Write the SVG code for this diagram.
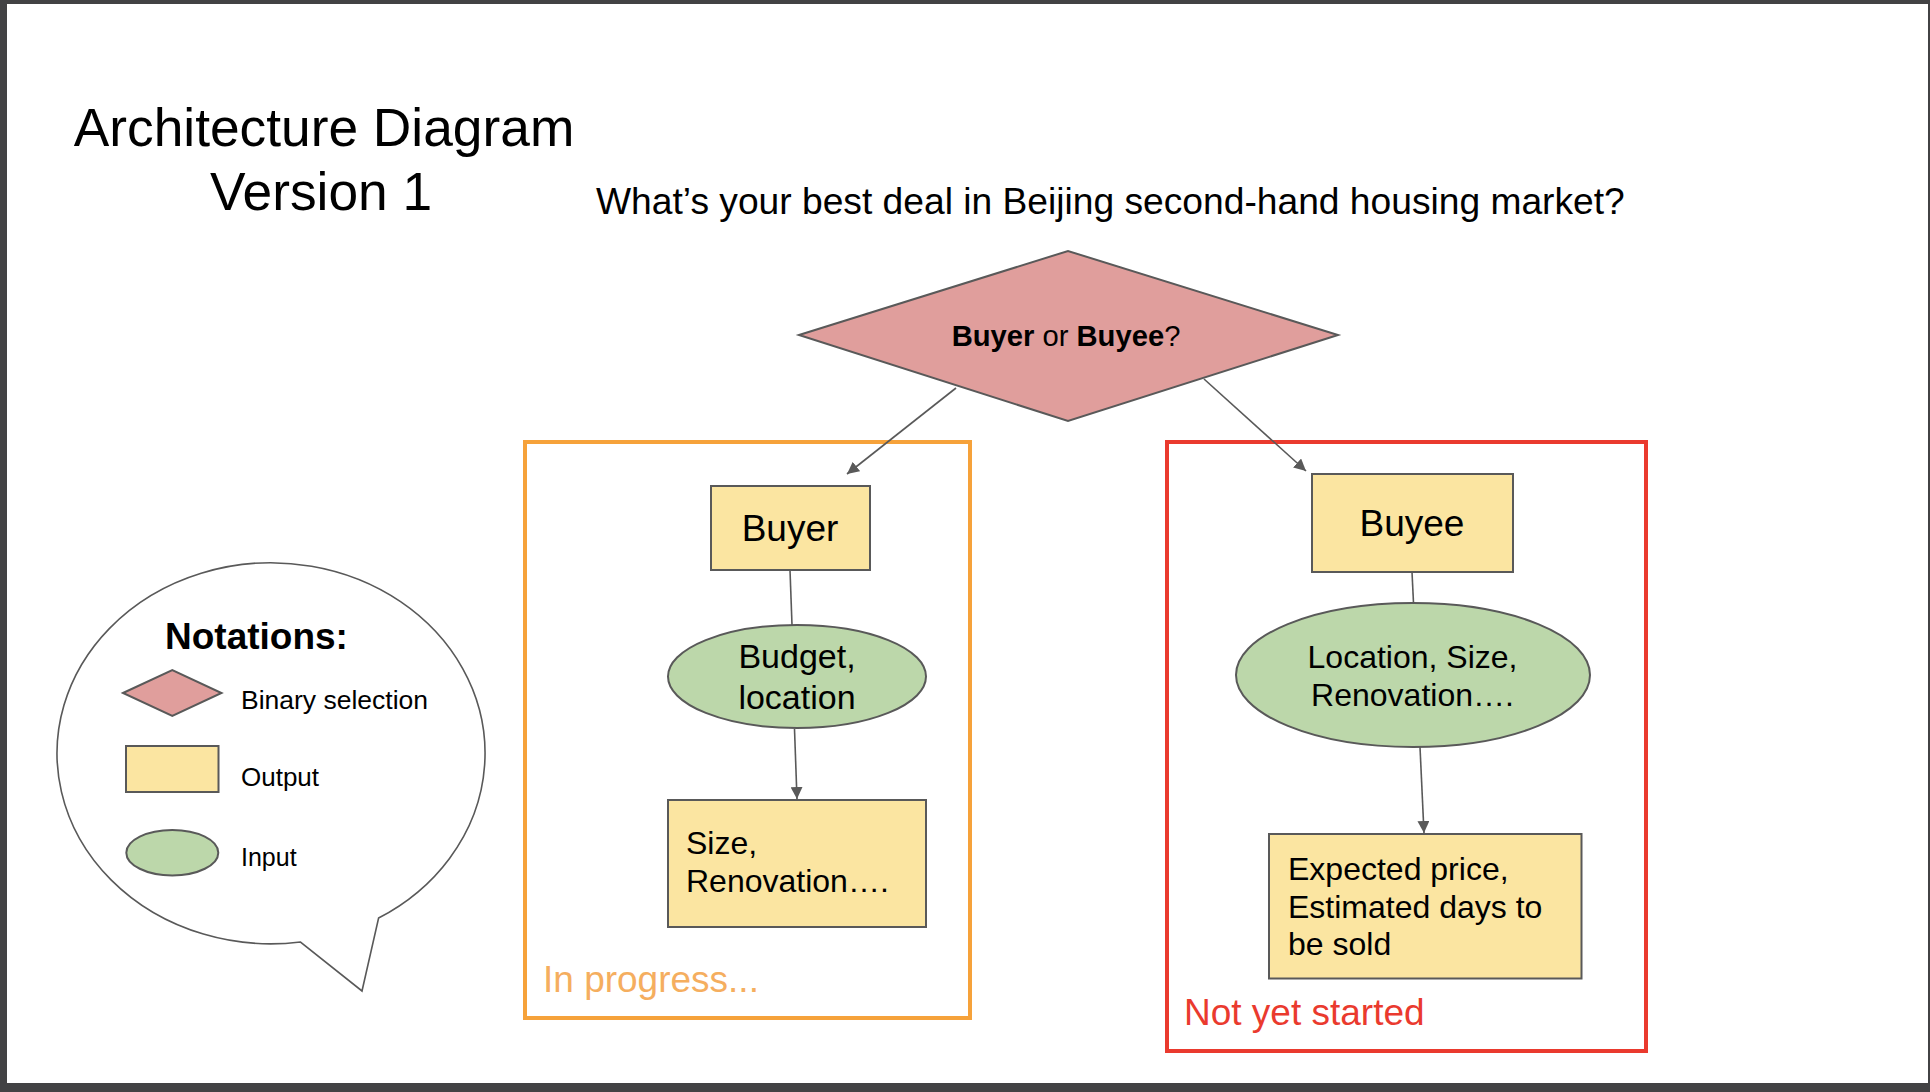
<svg xmlns="http://www.w3.org/2000/svg" width="1930" height="1092" viewBox="0 0 1930 1092">
<defs>
<style>
text{font-family:"Liberation Sans",Arial,sans-serif;fill:#000}
.sh{stroke:#595959;stroke-width:2}
.out{fill:#fbe5a1}
.inp{fill:#bcd7aa}
.dia{fill:#e09e9c}
.conn{stroke:#595959;stroke-width:1.6;fill:none}
.c{text-anchor:middle}
</style>
<marker id="arr" markerUnits="userSpaceOnUse" markerWidth="14" markerHeight="12" refX="12" refY="6" orient="auto">
<path d="M0,0 L12,6 L0,12 Z" fill="#595959"/>
</marker>
</defs>
<rect x="0" y="0" width="1930" height="1092" fill="#424244"/>
<rect x="7" y="4" width="1921" height="1079" fill="#ffffff"/>

<g id="title">
<text x="324" y="146" class="c" font-size="53.3">Architecture Diagram</text>
<text x="321" y="210" class="c" font-size="53.3">Version 1</text>
</g>
<text id="question" x="596" y="214" font-size="37.2">What’s your best deal in Beijing second-hand housing market?</text>

<g id="legend">
<path d="M298.5 942 A214 190.5 0 1 1 376.6 918 L360 991 Z" fill="#fff" stroke="#595959" stroke-width="1.6" transform="translate(2 0)"/>
<text x="165" y="649" font-size="37" font-weight="bold">Notations:</text>
<polygon points="123,693 172.3,670 221.5,693 172.3,716" class="dia sh"/>
<text x="241" y="709" font-size="26.5">Binary selection</text>
<rect x="126" y="746" width="92.5" height="46" class="out sh"/>
<text x="241" y="786" font-size="26">Output</text>
<ellipse cx="172.3" cy="852.7" rx="46" ry="22.7" class="inp sh"/>
<text x="241" y="866" font-size="25">Input</text>
</g>

<g id="group-in-progress">
<rect x="525" y="442" width="445" height="576" fill="none" stroke="#f6a23a" stroke-width="4"/>
<text x="543" y="992" font-size="37" style="fill:#f5ae5f">In progress...</text>
</g>
<g id="group-not-started">
<rect x="1167" y="442" width="479" height="609" fill="none" stroke="#ea3a2e" stroke-width="4"/>
<text x="1184" y="1025" font-size="37" style="fill:#ea3a2e">Not yet started</text>
</g>

<g id="connectors">
<line x1="956" y1="388" x2="847" y2="474" class="conn" marker-end="url(#arr)"/>
<line x1="1204" y1="379" x2="1306" y2="471" class="conn" marker-end="url(#arr)"/>
<line x1="790" y1="570" x2="792" y2="625" class="conn"/>
<line x1="794.5" y1="729" x2="797" y2="799" class="conn" marker-end="url(#arr)"/>
<line x1="1412" y1="572" x2="1413.5" y2="603" class="conn"/>
<line x1="1420" y1="747" x2="1424" y2="833" class="conn" marker-end="url(#arr)"/>
</g>

<g id="decision">
<polygon points="799,335 1068,251 1338,335 1068,421" class="dia sh"/>
<text x="1066" y="346" class="c" font-size="29.2"><tspan font-weight="bold">Buyer</tspan> or <tspan font-weight="bold">Buyee</tspan>?</text>
</g>

<g id="buyer">
<rect x="711" y="486" width="159" height="84" class="out sh"/>
<text x="790" y="541" class="c" font-size="37">Buyer</text>
</g>
<g id="buyer-input">
<ellipse cx="797" cy="676.5" rx="129" ry="51.5" class="inp sh"/>
<text x="797" y="668" class="c" font-size="34">Budget,</text>
<text x="797" y="709" class="c" font-size="34">location</text>
</g>
<g id="buyer-output">
<rect x="668" y="800" width="258" height="127" class="out sh"/>
<text x="686" y="854" font-size="32">Size,</text>
<text x="686" y="892" font-size="32">Renovation….</text>
</g>

<g id="buyee">
<rect x="1312" y="474" width="201" height="98" class="out sh"/>
<text x="1412" y="536" class="c" font-size="37">Buyee</text>
</g>
<g id="buyee-input">
<ellipse cx="1413" cy="675" rx="177" ry="72" class="inp sh"/>
<text x="1412.5" y="668" class="c" font-size="32">Location, Size,</text>
<text x="1412.5" y="706" class="c" font-size="32">Renovation….</text>
</g>
<g id="buyee-output">
<rect x="1269" y="834" width="312.5" height="144.5" class="out sh"/>
<text x="1288" y="880" font-size="32">Expected price,</text>
<text x="1288" y="918" font-size="32">Estimated days to</text>
<text x="1288" y="955" font-size="32">be sold</text>
</g>
</svg>
